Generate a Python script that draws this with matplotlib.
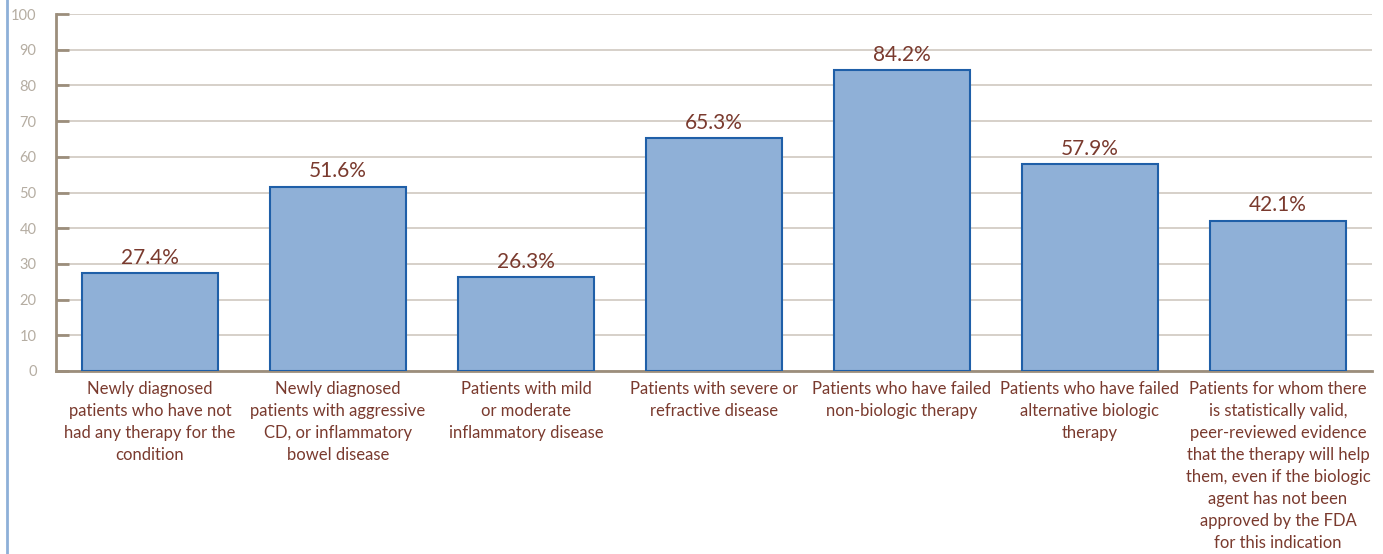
import matplotlib
matplotlib.use("Agg")
import matplotlib.pyplot as plt
from matplotlib.lines import Line2D

plt.rcParams['font.family'] = ['Lato', 'DejaVu Sans']

categories = [
    "Newly diagnosed\npatients who have not\nhad any therapy for the\ncondition",
    "Newly diagnosed\npatients with aggressive\nCD, or inflammatory\nbowel disease",
    "Patients with mild\nor moderate\ninflammatory disease",
    "Patients with severe or\nrefractive disease",
    "Patients who have failed\nnon-biologic therapy",
    "Patients who have failed\nalternative biologic\ntherapy",
    "Patients for whom there\nis statistically valid,\npeer-reviewed evidence\nthat the therapy will help\nthem, even if the biologic\nagent has not been\napproved by the FDA\nfor this indication",
]
values = [27.4, 51.6, 26.3, 65.3, 84.2, 57.9, 42.1]
yticks = list(range(0, 101, 10))

text_col = '#7A3A2E'
axis_col = '#9C8E7C'
grid_col = '#CFC8C0'
tick_col = '#B5ADA2'

fig = plt.figure(figsize=(13.83, 5.54), dpi=100)
ax = fig.add_axes([56 / 1383, 1 - 371 / 554, (1372 - 56) / 1383, (371 - 14) / 554])

x = range(len(values))
bars = ax.bar(x, values, width=0.72, color='#8FB0D7', edgecolor='#1F5FA8',
              linewidth=1.5, zorder=3)

for xi, v in zip(x, values):
    ax.text(xi, v + 1.5, f"{v:.1f}%", ha='center', va='bottom',
            fontsize=15, color=text_col)

ax.set_xlim(-0.5, len(values) - 0.5)
ax.set_ylim(0, 100)
ax.set_yticks(yticks)
ax.set_xticks(list(x))
ax.set_xticklabels(categories, fontsize=12, color=text_col, linespacing=1.47,
                   va='top')
ax.tick_params(axis='x', length=0, pad=7)
ax.tick_params(axis='y', direction='in', length=9.5, width=2, color=axis_col,
               labelcolor=tick_col, labelsize=10.5, pad=14)

ax.grid(axis='y', color=grid_col, linewidth=1.2, zorder=0)
for s in ['top', 'right']:
    ax.spines[s].set_visible(False)
for s in ['left', 'bottom']:
    ax.spines[s].set_color(axis_col)
    ax.spines[s].set_linewidth(2)

fig.add_artist(Line2D([7 / 1383, 7 / 1383], [0, 1], color='#8EB0D8',
                      linewidth=2, transform=fig.transFigure))

fig.savefig('out.png', dpi=100)
